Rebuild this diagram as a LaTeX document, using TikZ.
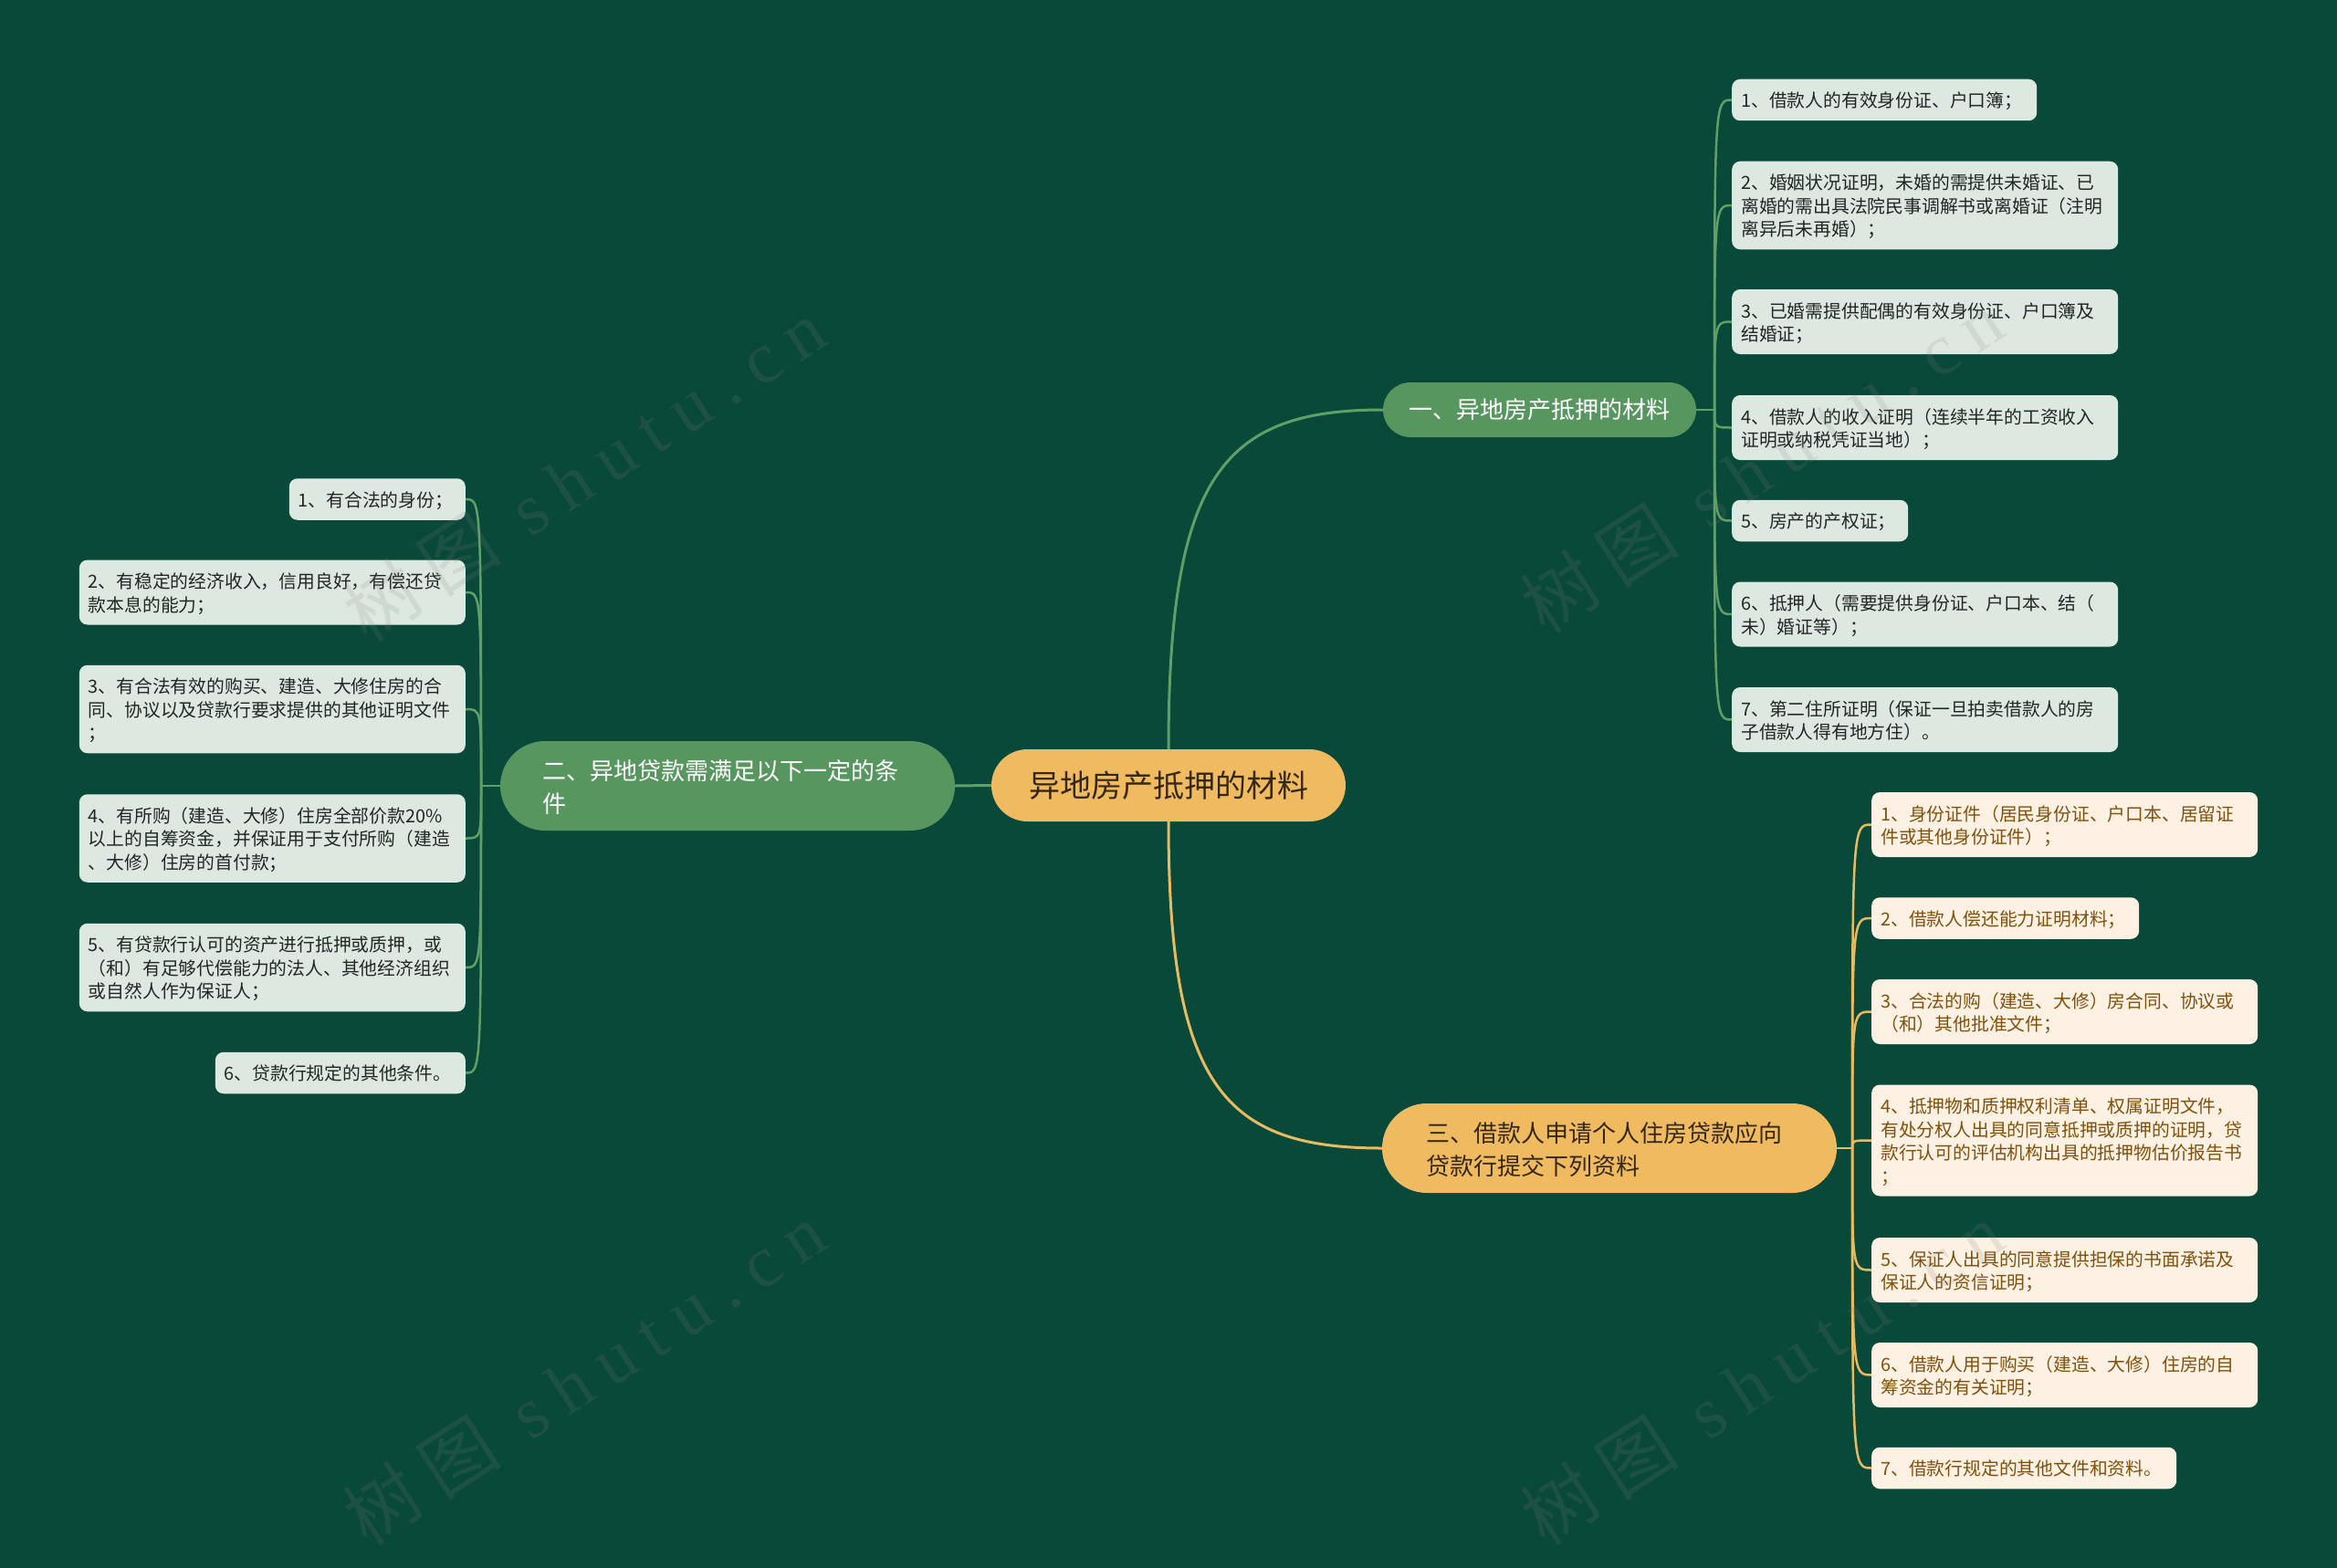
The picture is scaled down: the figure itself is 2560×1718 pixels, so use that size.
\documentclass[tikz,border=0pt]{standalone}
\usepackage{fontspec}
\setmainfont{Noto Sans CJK SC}
\newfontfamily\wmcjk[LetterSpace=22]{Noto Sans CJK SC}
\newfontfamily\wmlatin[LetterSpace=22]{Liberation Serif}
\usetikzlibrary{calc}
\definecolor{bgc}{RGB}{9,73,57}
\definecolor{brgreen}{RGB}{88,150,96}
\definecolor{lngreen}{RGB}{96,160,104}
\definecolor{itgreen}{RGB}{221,233,224}
\definecolor{ittext}{RGB}{34,38,36}
\definecolor{gold}{RGB}{240,187,96}
\definecolor{lngold}{RGB}{232,186,98}
\definecolor{cream}{RGB}{252,241,226}
\definecolor{goldtext}{RGB}{128,80,12}
\definecolor{darktext}{RGB}{52,40,20}
\newcommand\itemfont{\fontsize{19.8pt}{25.5pt}\selectfont}
\newcommand\istrut{\rule[-4.5pt]{0pt}{25.5pt}}
\newcommand\brfont{\fontsize{26pt}{36pt}\selectfont}
\newcommand\bstrut{\rule[-7pt]{0pt}{36pt}}
\tikzset{
  itembox/.style={rounded corners=9pt, inner xsep=10pt, inner ysep=10pt,
    font=\itemfont, align=left,
    execute at begin node=\istrut, execute at end node=\istrut},
  gitem/.style={itembox, fill=itgreen, text=ittext},
  oitem/.style={itembox, fill=cream, text=goldtext},
  centernode/.style={fill=gold, text=darktext, rounded corners=39.5pt,
    minimum width=388pt, minimum height=79pt, inner sep=0pt,
    font=\fontsize{34pt}{40pt}\selectfont},
  brone/.style={fill=brgreen, text=white, rounded corners=30pt,
    minimum width=343pt, minimum height=60pt, inner sep=0pt,
    font=\fontsize{26pt}{32pt}\selectfont},
  brtwo/.style={rounded corners=49pt, inner ysep=13pt,
    font=\brfont, align=left,
    execute at begin node=\bstrut, execute at end node=\bstrut},
  cg/.style={draw=lngreen, line width=2.5pt},
  co/.style={draw=lngold, line width=2.5pt},
  wm/.style={text=gray, opacity=0.16, font=\fontsize{80pt}{90pt}\selectfont}
}
\begin{document}
\begin{tikzpicture}[x=1pt,y=-1pt]
\fill[bgc] (0,0) rectangle (2560,1718);
\useasboundingbox (0,0) rectangle (2560,1718);

% main and branch nodes
\node[centernode] (c) at (1280,860.5) {异地房产抵押的材料};
\node[brone] (b1) at (1686.5,449) {一、异地房产抵押的材料};
\node[brtwo, fill=brgreen, text=white, inner xsep=46pt, text width=406pt] (b2) at (797,861) {二、异地贷款需满足以下一定的条\\件};
\node[brtwo, fill=gold, text=darktext, inner xsep=48pt, text width=402pt] (b3) at (1763,1258) {三、借款人申请个人住房贷款应向\\贷款行提交下列资料};

% group 1 (right, green)
\node[gitem, anchor=west, text width=314pt] (r1) at (1897,109.5) {1、借款人的有效身份证、户口簿；};
\node[gitem, anchor=west, text width=403pt] (r2) at (1897,225) {2、婚姻状况证明，未婚的需提供未婚证、已\\离婚的需出具法院民事调解书或离婚证（注明\\离异后未再婚）；};
\node[gitem, anchor=west, text width=403pt] (r3) at (1897,352.5) {3、已婚需提供配偶的有效身份证、户口簿及\\结婚证；};
\node[gitem, anchor=west, text width=403pt] (r4) at (1897,468.5) {4、借款人的收入证明（连续半年的工资收入\\证明或纳税凭证当地）；};
\node[gitem, anchor=west, text width=173pt] (r5) at (1897,570.5) {5、房产的产权证；};
\node[gitem, anchor=west, text width=403pt] (r6) at (1897,673) {6、抵押人（需要提供身份证、户口本、结（\\未）婚证等）；};
\node[gitem, anchor=west, text width=403pt] (r7) at (1897,788.5) {7、第二住所证明（保证一旦拍卖借款人的房\\子借款人得有地方住）。};

% group 2 (left, green)
\node[gitem, anchor=east, text width=173pt] (l1) at (510,547) {1、有合法的身份；};
\node[gitem, anchor=east, text width=403pt] (l2) at (510,649) {2、有稳定的经济收入，信用良好，有偿还贷\\款本息的能力；};
\node[gitem, anchor=east, text width=403pt] (l3) at (510,777) {3、有合法有效的购买、建造、大修住房的合\\同、协议以及贷款行要求提供的其他证明文件\\；};
\node[gitem, anchor=east, text width=403pt] (l4) at (510,918.5) {4、有所购（建造、大修）住房全部价款20\%\\以上的自筹资金，并保证用于支付所购（建造\\、大修）住房的首付款；};
\node[gitem, anchor=east, text width=403pt] (l5) at (510,1060) {5、有贷款行认可的资产进行抵押或质押，或\\（和）有足够代偿能力的法人、其他经济组织\\或自然人作为保证人；};
\node[gitem, anchor=east, text width=254pt] (l6) at (510,1175.5) {6、贷款行规定的其他条件。};

% group 3 (right, gold)
\node[oitem, anchor=west, text width=403pt] (o1) at (2050,903.5) {1、身份证件（居民身份证、户口本、居留证\\件或其他身份证件）；};
\node[oitem, anchor=west, text width=273pt] (o2) at (2050,1006) {2、借款人偿还能力证明材料；};
\node[oitem, anchor=west, text width=403pt] (o3) at (2050,1108.5) {3、合法的购（建造、大修）房合同、协议或\\（和）其他批准文件；};
\node[oitem, anchor=west, text width=403pt] (o4) at (2050,1249.5) {4、抵押物和质押权利清单、权属证明文件，\\有处分权人出具的同意抵押或质押的证明，贷\\款行认可的评估机构出具的抵押物估价报告书\\；};
\node[oitem, anchor=west, text width=403pt] (o5) at (2050,1391.5) {5、保证人出具的同意提供担保的书面承诺及\\保证人的资信证明；};
\node[oitem, anchor=west, text width=403pt] (o6) at (2050,1506.5) {6、借款人用于购买（建造、大修）住房的自\\筹资金的有关证明；};
\node[oitem, anchor=west, text width=314pt] (o7) at (2050,1608.5) {7、借款行规定的其他文件和资料。};

% main connectors
\draw[cg, line width=3pt] (c.north) .. controls ($(c.north)+(0,-300)$) and ($(b1.west)+(-175,0)$) .. (b1.west);
\draw[co, line width=3pt] (c.south) .. controls ($(c.south)+(0,290)$) and ($(b3.west)+(-173,0)$) .. (b3.west);
\draw[cg, line width=3pt] (c.west) -- (b2.east);

% spines
\coordinate (s1) at (1878,449);
\coordinate (s2) at (527,861);
\coordinate (s3) at (2029,1258);
\draw[cg] (b1.east) -- (s1);
\draw[cg] (b2.west) -- (s2);
\draw[co] (b3.east) -- (s3);
\foreach \n in {r1,r2,r3,r4,r5,r6,r7}
  \draw[cg] (s1) .. controls (s1 |- \n.west) .. (\n.west);
\foreach \n in {l1,l2,l3,l4,l5,l6}
  \draw[cg] (s2) .. controls (s2 |- \n.east) .. (\n.east);
\foreach \n in {o1,o2,o3,o4,o5,o6,o7}
  \draw[co] (s3) .. controls (s3 |- \n.west) .. (\n.west);

% watermarks
\node[wm, rotate=33] (w1) at (640,515) {\wmcjk 树图 {\wmlatin shutu.cn}};
\node[wm, rotate=33] (w2) at (1930,506) {\wmcjk 树图 {\wmlatin shutu.cn}};
\node[wm, rotate=33] (w3) at (640,1505) {\wmcjk 树图 {\wmlatin shutu.cn}};
\node[wm, rotate=33] (w4) at (1930,1505) {\wmcjk 树图 {\wmlatin shutu.cn}};
\end{tikzpicture}
\end{document}
